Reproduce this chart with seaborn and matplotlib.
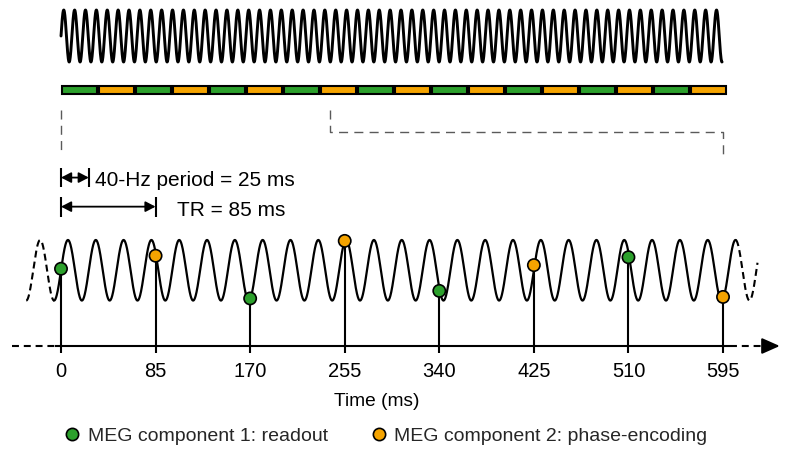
import numpy as np
import pandas as pd
import matplotlib
matplotlib.use("Agg")
import matplotlib.pyplot as plt
import seaborn as sns

# Stimulation and acquisition timing
PERIOD_MS = 25          # 40-Hz stimulation period
TR_MS = 85              # repetition time
OVERVIEW_MS = 1519      # length of the stimulation trace in the overview strip

# MEG samples taken once per TR
sample_times = [0, 85, 170, 255, 340, 425, 510, 595]
sample_values = [0.05, 0.48, -0.93, 0.97, -0.68, 0.17, 0.43, -0.88]
sample_components = [1, 2, 1, 2, 1, 2, 1, 2]
tick_labels = ["0", "85", "170", "255", "340", "425", "510", "595"]

# Acquisition segments of the overview strip (one per TR)
segment_components = [1, 2, 1, 2, 1, 2, 1, 2, 1, 2, 1, 2, 1, 2, 1, 2, 1, 2]

component_names = {
    1: "MEG component 1: readout",
    2: "MEG component 2: phase-encoding",
}
GREEN = "#2ca02c"
ORANGE = "#f5a400"
component_colors = {1: GREEN, 2: ORANGE}

sns.set_theme(style="white")
plt.rcParams["font.family"] = ["Liberation Sans", "DejaVu Sans"]
plt.rcParams["lines.scale_dashes"] = False

W, H = 787, 450
fig = plt.figure(figsize=(W / 100, H / 100), dpi=100)
ax_top = fig.add_axes([0, 1 - 160 / H, 1, 160 / H])
ax = fig.add_axes([0, 1 - 346 / H, 1, 186 / H])
for a in (ax_top, ax):
    a.set_facecolor("none")
    for s in a.spines.values():
        s.set_visible(False)

# ---------------- overview strip ----------------
ax_top.set_xlim(-140.2, 1668.2)
ax_top.set_ylim(-4.77, 1.385)
ax_top.set_axis_off()

t_over = np.linspace(0, OVERVIEW_MS, 6000)
freq = 1.0 / PERIOD_MS
sns.lineplot(x=t_over, y=np.sin(2 * np.pi * freq * t_over), ax=ax_top,
             color="black", lw=2.1, sort=False, estimator=None)

seg_gap = 6.0
seg_starts = [i * TR_MS for i in range(len(segment_components))]
ax_top.bar([s + seg_gap / 2 for s in seg_starts], 0.31, width=TR_MS - seg_gap,
           bottom=-2.215, align="edge",
           color=[component_colors[c] for c in segment_components],
           edgecolor="black", linewidth=1.5)

# bracket pointing from the strip to the detailed view
bracket_kw = dict(color="#5a5a5a", lw=1.0, linestyle=(0, (6.5, 4.5)),
                  clip_on=False)
ax_top.plot([0, 0], [-2.846, -4.46], **bracket_kw)
ax_top.plot([618, 618, 1521, 1521], [-2.846, -3.69, -3.69, -4.577], **bracket_kw)

# ---------------- detailed view ----------------
ax.set_xlim(-54.83, 652.5)
ax.set_ylim(-2.5, 3.64)
ax.set_yticks([])

t_main = np.linspace(-PERIOD_MS / 4, 606.25, 3000)
sns.lineplot(x=t_main, y=np.sin(2 * np.pi * freq * t_main), ax=ax,
             color="black", lw=1.6, sort=False, estimator=None)
dash_kw = dict(color="black", lw=1.5, linestyle=(0, (5.0, 3.0)), clip_on=False)
t_pre = np.linspace(-31.25, -6.25, 300)
t_post = np.linspace(606.25, 626, 300)
ax.plot(t_pre, np.sin(2 * np.pi * freq * t_pre), **dash_kw)
ax.plot(t_post, np.sin(2 * np.pi * freq * t_post), **dash_kw)

# time axis with dashed continuation and arrow head
base = -2.5
ax.plot([-5, 601], [base, base], color="black", lw=1.5, clip_on=False,
        solid_capstyle="butt")
axis_dash = dict(color="black", lw=1.5, linestyle=(0, (5.0, 3.5)), clip_on=False)
ax.plot([-44, -5], [base, base], **axis_dash)
ax.plot([601, 634], [base, base], **axis_dash)
ax.annotate("", xy=(646, base), xytext=(633, base), annotation_clip=False,
            arrowprops=dict(arrowstyle="-|>,head_length=0.9,head_width=0.4",
                            color="black", lw=1.5, shrinkA=0, shrinkB=0))

# stems and samples
ax.vlines(sample_times, base, sample_values, color="black", lw=1.5, zorder=2)
df = pd.DataFrame({
    "time": sample_times,
    "value": sample_values,
    "component": [component_names[c] for c in sample_components],
})
sns.scatterplot(data=df, x="time", y="value", hue="component",
                hue_order=[component_names[1], component_names[2]],
                palette=[GREEN, ORANGE], s=78, edgecolor="black",
                linewidth=1.2, zorder=4, ax=ax, clip_on=False)

ax.set_xticks(sample_times, tick_labels)
ax.tick_params(axis="x", bottom=True, direction="out", length=5, width=1.5,
               color="black", pad=6.5, labelsize=14.5, labelcolor="black")
ax.set_ylabel("")
ax.set_xlabel("Time (ms)", fontsize=13.8, color="black")
ax.xaxis.set_label_coords(377 / W, -47 / 186)
ax.xaxis.label.set_va("top")

# period and TR markers
def span_marker(x0, x1, y, half):
    ax.vlines([x0, x1], y - half, y + half, color="black", lw=1.5, clip_on=False)
    ax.annotate("", xy=(x1, y), xytext=(x0, y), annotation_clip=False,
                arrowprops=dict(arrowstyle="<|-|>,head_length=0.5,head_width=0.26",
                                color="black", lw=1.3, shrinkA=0, shrinkB=0,
                                mutation_scale=12))

span_marker(0, PERIOD_MS, 3.06, 0.32)
ax.text(30.9, 2.78, f"40-Hz period = {PERIOD_MS} ms", fontsize=15,
        ha="left", va="baseline", color="black")
span_marker(0, TR_MS, 2.10, 0.33)
ax.text(104.7, 1.79, f"TR = {TR_MS} ms", fontsize=15,
        ha="left", va="baseline", color="black")

sns.move_legend(ax, "center", bbox_to_anchor=(385 / W, -90 / 186), ncol=2,
                frameon=False, title=None, fontsize=14.0, handlelength=1.0,
                handletextpad=0.3, columnspacing=2.1, borderaxespad=0)

fig.savefig("out.png", dpi=100)
